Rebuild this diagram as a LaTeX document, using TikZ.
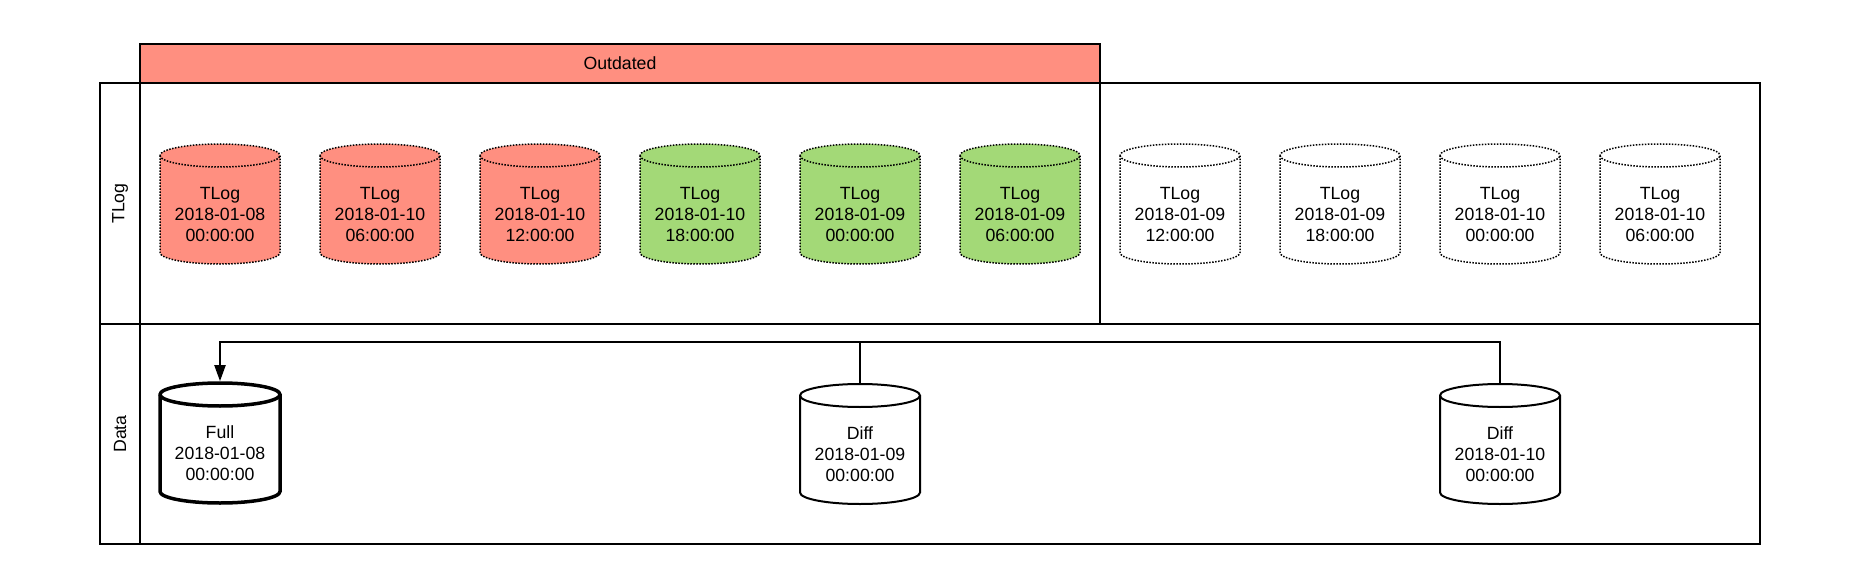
\documentclass[tikz,border=0pt]{standalone}
\usepackage{fontspec}
\setmainfont{Liberation Sans}
\usetikzlibrary{arrows.meta}
\definecolor{outred}{HTML}{FF8F80}
\definecolor{okgreen}{HTML}{A3D977}
\tikzset{
  txtfont/.style={font=\fontsize{17.7}{21}\selectfont},
  box/.style={draw=black, line width=2pt, rectangle, inner sep=0pt, outer sep=0pt},
  cylbox/.style={rectangle, draw=none, inner sep=0pt, outer sep=0pt, minimum width=120pt, minimum height=120pt},
  cyltxt/.style={txtfont, align=center, inner sep=0pt},
  redcyl/.style={fill=outred, draw=black, line width=1.5pt, dash pattern=on 1.5pt off 1.5pt},
  greencyl/.style={fill=okgreen, draw=black, line width=1.5pt, dash pattern=on 1.5pt off 1.5pt},
  whitecyl/.style={fill=white, draw=black, line width=1.5pt, dash pattern=on 1.5pt off 1.5pt},
  datacyl/.style={fill=white, draw=black, line width=2pt},
  fullcyl/.style={fill=white, draw=black, line width=3.5pt},
  edge/.style={draw=black, line width=2pt},
}
\newcommand\dbcyl[5]{%
  \path[#4] (#2-60,-#3-11.5) -- (#2-60,-#3-108.5)
     arc[start angle=180,end angle=360,x radius=60,y radius=11.5]
     -- (#2+60,-#3-11.5)
     arc[start angle=0,end angle=180,x radius=60,y radius=11.5] -- cycle;
  \path[#4, fill=none] (#2-60,-#3-11.5)
     arc[start angle=180,end angle=360,x radius=60,y radius=11.5];
  \node[cylbox] (#1) at (#2,-#3-60) {};
  \node[cyltxt] (#1-t) at (#2,-#3-70) {#5};
}
\begin{document}
\begin{tikzpicture}[x=1pt,y=1pt]
\useasboundingbox (0,0) rectangle (1869,-580);
\fill[white] (0,0) rectangle (1869,-580);
% lanes
\node[box, minimum width=1660pt, minimum height=241pt, anchor=north west] (tlane) at (100,-83) {};
\node[box, minimum width=40pt, minimum height=241pt, anchor=north west] (tlanehdr) at (100,-83) {};
\node[txtfont, rotate=90] (tlanelbl) at (tlanehdr.center) {TLog};
\node[box, minimum width=1660pt, minimum height=220pt, anchor=north west] (dlane) at (100,-324) {};
\node[box, minimum width=40pt, minimum height=220pt, anchor=north west] (dlanehdr) at (100,-324) {};
\node[txtfont, rotate=90] (dlanelbl) at (dlanehdr.center) {Data};
% outdated container
\node[box, minimum width=960pt, minimum height=280pt, anchor=north west] (outbox) at (140,-44) {};
\node[box, fill=outred, minimum width=960pt, minimum height=39pt, anchor=north west, txtfont] (outhdr) at (140,-44) {Outdated};
% TLog cylinders
\dbcyl{t1}{220}{144}{redcyl}{TLog\\2018-01-08\\00:00:00}
\dbcyl{t2}{380}{144}{redcyl}{TLog\\2018-01-10\\06:00:00}
\dbcyl{t3}{540}{144}{redcyl}{TLog\\2018-01-10\\12:00:00}
\dbcyl{t4}{700}{144}{greencyl}{TLog\\2018-01-10\\18:00:00}
\dbcyl{t5}{860}{144}{greencyl}{TLog\\2018-01-09\\00:00:00}
\dbcyl{t6}{1020}{144}{greencyl}{TLog\\2018-01-09\\06:00:00}
\dbcyl{t7}{1180}{144}{whitecyl}{TLog\\2018-01-09\\12:00:00}
\dbcyl{t8}{1340}{144}{whitecyl}{TLog\\2018-01-09\\18:00:00}
\dbcyl{t9}{1500}{144}{whitecyl}{TLog\\2018-01-10\\00:00:00}
\dbcyl{t10}{1660}{144}{whitecyl}{TLog\\2018-01-10\\06:00:00}
% Data cylinders
\dbcyl{full}{220}{383}{fullcyl}{Full\\2018-01-08\\00:00:00}
\dbcyl{diffa}{860}{384}{datacyl}{Diff\\2018-01-09\\00:00:00}
\dbcyl{diffb}{1500}{384}{datacyl}{Diff\\2018-01-10\\00:00:00}
% connectors
\coordinate (bus) at (220,-342);
\draw[edge] (diffb.north) |- (bus);
\draw[edge, -{Triangle[width=11pt,length=16pt]}] (diffa.north) |- (bus) -- ([yshift=1.8pt]full.north);
\end{tikzpicture}
\end{document}
